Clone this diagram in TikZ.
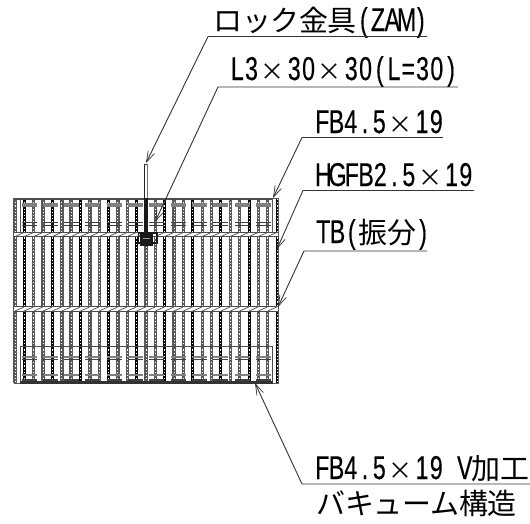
\documentclass[tikz,border=0pt]{standalone}
\usepackage{fontspec}
\usetikzlibrary{arrows.meta}
\newfontfamily\jpf{Noto Sans CJK JP}
\newfontfamily\latf[FakeStretch=0.7,FakeBold=0.3]{Liberation Sans}
\makeatletter
\newcommand{\lt}[1]{{\latf\fontsize{33}{33}\selectfont\@tfor\chh:=#1\do{\makebox[14.25pt][c]{\chh}}}}
\newcommand{\jc}[1]{{\jpf\fontsize{29}{33}\selectfont\@tfor\chh:=#1\do{\makebox[28.5pt][c]{\chh}}}}
\makeatother
\newcommand{\tms}{\makebox[28.5pt][c]{\jpf\fontsize{24}{33}\selectfont ×}}
\newcommand{\hsp}{\hspace*{14.25pt}}
\tikzset{
  x=1pt,y=-1pt,
  lbl/.style={anchor=base west,inner sep=0pt,text=black},
  leader/.style={draw=black!80,line width=0.9pt,-{Straight Barb[length=11pt,width=7pt,line width=0.7pt]}},
  barA/.style={line width=3.4pt,draw=black!65},
  barB/.style={line width=3pt,draw=black},
  barDots/.style={line width=1pt,draw=white,dash pattern=on 1.1pt off 2.1pt},
  cross/.style={line width=1pt,draw=black!75},
  crossG/.style={line width=1.4pt,draw=black!50},
  twist/.style={line width=0.9pt,draw=black!70}
}
\begin{document}
\begin{tikzpicture}
\useasboundingbox (0,0) rectangle (530,523);
% bearing bars
\foreach \i in {0,...,28}{
  \pgfmathsetmacro{\bx}{15+9.36*\i}
  \pgfmathtruncatemacro{\odd}{mod(\i,3)}
  \ifnum\odd=1
    \draw[barB] (\bx,198) -- (\bx,383);
  \else
    \draw[barA] (\bx,198) -- (\bx,383);
  \fi
  \draw[barDots] (\bx,199) -- (\bx,382);
}
% short cross pieces
\foreach \i in {0,...,11}{
  \pgfmathsetmacro{\sx}{21.5+21.3*\i}
  \pgfmathsetmacro{\ex}{\sx+15}
  \draw[crossG] (\sx,204) -- (\ex,204);
  \draw[crossG] (\sx,206) -- (\ex,206);
  \draw[cross] (\sx,222) -- (\ex,222);
  \draw[cross] (\sx,225.5) -- (\ex,225.5);
  \draw[crossG] (\sx,357) -- (\ex,357);
  \draw[cross] (\sx,359.5) -- (\ex,359.5);
  \draw[crossG] (\sx,375) -- (\ex,375);
  \draw[cross,line width=1.3pt] (\sx,380) -- (\ex,380);
}
% outer frame and inner frames
\draw[line width=1pt,draw=black!65] (14,198) rectangle (278.5,383);
\draw[line width=1pt,draw=black!65] (20,198) -- (20,233);
\draw[line width=1pt,draw=black!65] (272.5,198) -- (272.5,233);
\draw[line width=1pt,draw=black!70] (20,346) -- (272.5,346);
\draw[line width=1pt,draw=black!70] (20,346) -- (20,383);
\draw[line width=1pt,draw=black!70] (272.5,346) -- (272.5,383);
\draw[line width=2pt,draw=black!70] (14,198.5) -- (272,198.5);
\draw[line width=2.4pt,draw=black!80] (20,382.5) -- (272.5,382.5);
% twisted bars
\foreach \yy in {234.5,309}{
  \fill[white] (14,\yy-2) rectangle (278,\yy+2);
  \draw[twist] (14,\yy-2.3) -- (278,\yy-2.3);
  \draw[twist] (14,\yy+2.3) -- (278,\yy+2.3);
  \foreach \i in {0,...,27}{
    \pgfmathsetmacro{\tx}{15+9.36*\i}
    \draw[twist,line width=0.7pt] (\tx,\yy+2) -- (\tx+9,\yy-2);
  }
}
% lock fitting
\draw[line width=1pt,draw=black!85] (144,164) -- (144,236);
\draw[line width=1pt,draw=black!55] (147,164) -- (147,198);
\draw[line width=0.9pt,draw=black!80] (144,164) -- (147,164);
\draw[line width=4pt,draw=black!90] (146,198) -- (146,246);
\draw[line width=1.4pt,draw=black!90] (138.5,233) rectangle (157,243);
\fill[black!90] (140,232) rectangle (153,246);
\draw[line width=1pt,draw=white!60!black] (143,238) -- (150,238);
% labels
\node[lbl] (n1) at (214,31) {\jc{ロック金具}\lt{(ZAM)}};
\node[lbl] (n2) at (230,80) {\lt{L3}\tms\lt{30}\tms\lt{30(L=30)}};
\node[lbl] (n3) at (315,133) {\lt{FB4.5}\tms\lt{19}};
\node[lbl] (n4) at (316,186) {\lt{HGFB2.5}\tms\lt{19}};
\node[lbl] (n5) at (316,243) {\lt{TB(}\jc{振分}\lt{)}};
\node[lbl] (n6) at (315,479) {\lt{FB4.5}\tms\lt{19}\hsp\lt{V}\jc{加工}};
\node[lbl] (n7) at (317,514) {\jc{バキューム構造}};
% leader ends
\coordinate (e1) at (427,36.5); \coordinate (k1) at (208,36.5); \coordinate (t1) at (146,163);
\coordinate (e2) at (458,87);   \coordinate (k2) at (218,87);   \coordinate (t2) at (155,222);
\coordinate (e3) at (443,137.5); \coordinate (k3) at (302,137.5); \coordinate (t3) at (273,198);
\coordinate (e4) at (474,190.5); \coordinate (k4) at (303,190.5); \coordinate (t4) at (277,249);
\coordinate (e5) at (427,251);  \coordinate (k5) at (304,251);  \coordinate (t5) at (278,307);
\coordinate (e6) at (530,484);  \coordinate (k6) at (302,484);  \coordinate (t6) at (255,383);
\foreach \j in {1,...,6}{
  \draw[leader] (e\j) -- (k\j) -- (t\j);
}
\end{tikzpicture}
\end{document}
